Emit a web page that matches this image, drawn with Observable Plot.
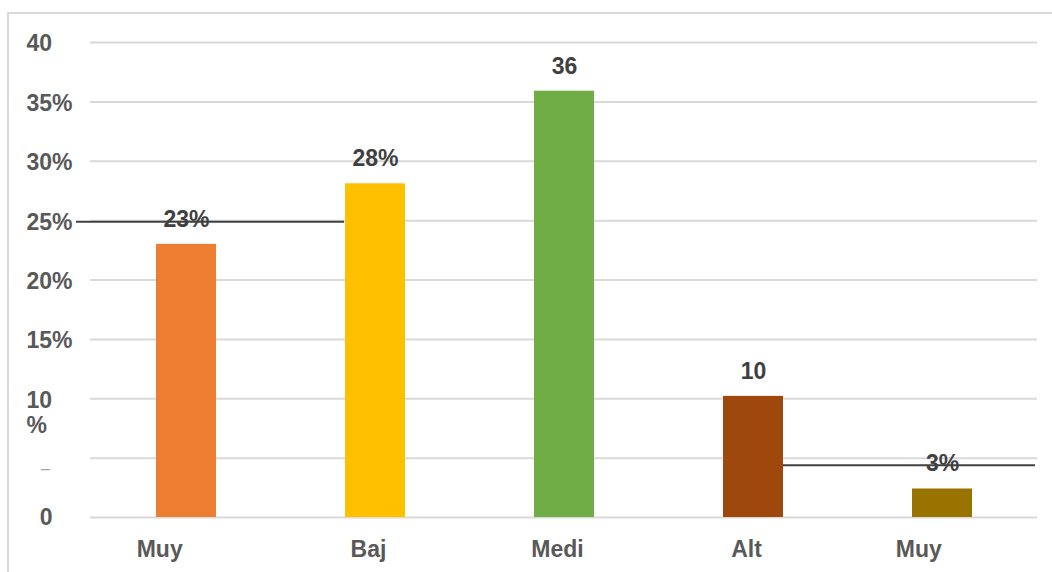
<!DOCTYPE html>
<html>
<head>
<meta charset="utf-8">
<script src="https://cdn.jsdelivr.net/npm/d3@7"></script>
<script src="https://cdn.jsdelivr.net/npm/@observablehq/plot@0.6"></script>
<style>
  html, body { margin: 0; padding: 0; background: #fff; }
  #wrap { position: relative; width: 1052px; height: 572px; overflow: hidden; }
  #border { position: absolute; left: 7px; top: 12px; right: -4px; bottom: -4px;
            border-top: 2px solid #d9d9d9; border-left: 2px solid #d9d9d9; }
  #chart { position: absolute; left: 0; top: 0; }
</style>
</head>
<body>
<div id="wrap"><div id="border"></div><div id="chart"></div></div>
<script>
// ---- data ----
const categories = ["Muy", "Baj", "Medi", "Alt", "Muy"];
// full (untruncated) category names: only used to place the truncated labels as in the reference
const fullNames = ["Muy bajo", "Bajo", "Medio", "Alto", "Muy alto"];
const values = [23, 28.1, 35.9, 10.2, 2.4];
const barLabels = ["23%", "28%", "36", "10", "3%"];
const barColors = ["#ED7D31", "#FFC000", "#70AD47", "#9E480E", "#997300"];
const yTicks = [0, 5, 10, 15, 20, 25, 30, 35, 40];
const yTickLabels = ["0", "–", "10\n%", "15%", "20%", "25%", "30%", "35%", "40"];
const lineLevels = [24.9, 4.4];

// ---- tables built from the arrays ----
const idx = categories.map((_, i) => i);
const bars = idx.map(i => ({i, value: values[i], label: barLabels[i], color: barColors[i], name: categories[i]}));
const ticks = yTicks.map((v, k) => ({v, label: yTickLabels[k]}));
const mainTicks = ticks.filter(d => d.v >= 10);
const zeroTick = ticks.filter(d => d.v === 0);
const dashTick = ticks.filter(d => d.v === 5);

const chart = Plot.plot({
  width: 1052,
  height: 572,
  marginLeft: 90,
  marginRight: 15,
  marginTop: 42,
  marginBottom: 55,
  style: {fontFamily: "'Liberation Sans', Arial, sans-serif", fontSize: "23px", fontWeight: "bold", background: "transparent"},
  x: {type: "band", domain: idx, paddingInner: 0.683, paddingOuter: 0.3415, align: 0.5, axis: null},
  y: {domain: [0, 40], axis: null},
  marks: [
    Plot.gridY(yTicks, {stroke: "#d9d9d9", strokeOpacity: 1, strokeWidth: 2}),
    Plot.barY(bars, {x: "i", y: "value", fill: "color"}),
    Plot.ruleY([lineLevels[0]], {x1: idx[0], x2: idx[1], insetLeft: -80, insetRight: 61, stroke: "#404040", strokeWidth: 2}),
    Plot.ruleY([lineLevels[1]], {x1: idx[3], x2: idx[4], insetLeft: 60, insetRight: -63, stroke: "#404040", strokeWidth: 2}),
    Plot.text(bars, {x: "i", y: "value", text: "label", dy: -25, fill: "#404040", fontWeight: "bold"}),
    Plot.text(bars, {x: "i", text: "name", frameAnchor: "bottom", lineAnchor: "top", dy: 23,
      textAnchor: "start", fill: "#595959", className: "xlab"}),
    Plot.text(mainTicks, {y: "v", text: "label", frameAnchor: "left", textAnchor: "start", dx: -64,
      lineAnchor: "top", dy: -9, lineHeight: 1.1, fill: "#595959"}),
    Plot.text(zeroTick, {y: "v", text: "label", frameAnchor: "left", textAnchor: "end", dx: -38, fill: "#595959"}),
    Plot.text(dashTick, {y: "v", text: "label", frameAnchor: "left", textAnchor: "middle", dx: -45, dy: 11,
      fill: "#a6a6a6", fontSize: 16, fontWeight: "normal"})
  ]
});
document.getElementById("chart").appendChild(chart);

// place each truncated x label where the full name, centred on its bar, would start
const svg = d3.select(chart.tagName === "svg" ? chart : chart.querySelector("svg"));
const probe = svg.append("text").attr("font-weight", "bold").attr("font-size", 23)
  .attr("font-family", "'Liberation Sans', Arial, sans-serif");
svg.selectAll(".xlab text").each(function(d, k) {
  probe.text(fullNames[k]);
  const w = probe.node().getComputedTextLength();
  d3.select(this).attr("dx", -w / 2);
});
probe.remove();
</script>
</body>
</html>
